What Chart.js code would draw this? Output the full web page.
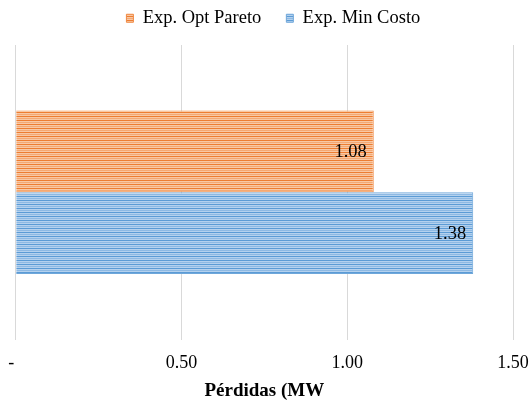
<!DOCTYPE html>
<html>
<head>
<meta charset="utf-8">
<script src="https://cdn.jsdelivr.net/npm/chart.js@4"></script>
<style>
  html, body { margin: 0; padding: 0; background: #ffffff; }
  #wrap { width: 530px; height: 401px; }
</style>
</head>
<body>
<div id="wrap"><canvas id="c" width="530" height="401"></canvas></div>
<script>
// Losses per dispatch scenario (MW)
const categories = [''];
const seriesNames = ['Exp. Opt Pareto', 'Exp. Min Costo'];
const paretoValues = [1.08];
const minCostValues = [1.38];
const tickValues = [0, 0.5, 1.0, 1.5];
const axisTitle = 'Pérdidas (MW';

// Horizontal-stripe fill: one solid line, then lighter lines
function stripes(dark, mid, light) {
  const p = document.createElement('canvas');
  p.width = 4; p.height = 4;
  const g = p.getContext('2d');
  g.fillStyle = light; g.fillRect(0, 0, 4, 4);
  g.fillStyle = dark;  g.fillRect(0, 0, 4, 1);
  g.fillStyle = mid;   g.fillRect(0, 2, 4, 1);
  return g.createPattern(p, 'repeat');
}
const ctx = document.getElementById('c').getContext('2d');
const orangeFill = stripes('#ED7D31', '#F4A873', '#F8C8A4');
const blueFill = stripes('#5B9BD5', '#8DB9E3', '#B4D1EE');

const serif = "'Liberation Serif', 'Times New Roman', serif";

// Value text drawn just inside the end of each bar
const barValues = {
  id: 'barValues',
  afterDatasetsDraw(chart) {
    const c = chart.ctx;
    c.save();
    c.font = '18.5px ' + serif;
    c.fillStyle = '#000000';
    c.textAlign = 'right';
    c.textBaseline = 'middle';
    chart.data.datasets.forEach((ds, i) => {
      chart.getDatasetMeta(i).data.forEach((bar, j) => {
        c.fillText(ds.data[j].toFixed(2), bar.x - 7, bar.y + 1);
      });
    });
    c.restore();
  }
};

// Extra space below the legend row, and a small rightward offset of the row
const legendPlacement = {
  id: 'legendPlacement',
  beforeUpdate(chart) {
    const lg = chart.legend;
    if (lg && !lg._gapPatched) {
      const fit = lg.fit.bind(lg);
      lg.fit = function () { fit(); this.height += 7.5; };
      lg._gapPatched = true;
    }
  },
  afterLayout(chart) {
    const lg = chart.legend;
    if (lg) { lg.left += 9; lg.right += 9; }
  }
};

new Chart(ctx, {
  type: 'bar',
  data: {
    labels: categories,
    datasets: [
      { label: seriesNames[0], data: paretoValues, backgroundColor: orangeFill, borderColor: '#F08A44', borderWidth: 1 },
      { label: seriesNames[1], data: minCostValues, backgroundColor: blueFill, borderColor: '#6FA7DA', borderWidth: 1 }
    ]
  },
  options: {
    indexAxis: 'y',
    responsive: false,
    animation: false,
    devicePixelRatio: 1,
    categoryPercentage: 0.555,
    barPercentage: 1.0,
    layout: { padding: { left: 15.7, right: 17, top: -16, bottom: 0 } },
    plugins: {
      legend: {
        position: 'top',
        labels: {
          font: { family: serif, size: 18.5 },
          color: '#000000',
          boxWidth: 7,
          boxHeight: 8,
          padding: 25
        }
      },
      tooltip: { enabled: false }
    },
    scales: {
      x: {
        min: 0,
        max: 1.5,
        afterBuildTicks(axis) { axis.ticks = tickValues.map(v => ({ value: v })); },
        afterFit(axis) { axis.paddingLeft = 0; axis.paddingRight = 0; },
        ticks: {
          font: { family: serif, size: 18, lineHeight: 1.0 },
          color: '#000000',
          padding: 14.5,
          maxRotation: 0,
          callback(v) { return v === 0 ? '-  ' : Number(v).toFixed(2); }
        },
        grid: { color: '#D9D9D9', lineWidth: 1, drawTicks: false },
        border: { display: false },
        title: {
          display: true,
          text: axisTitle,
          font: { family: serif, size: 19, weight: 'bold', lineHeight: 1.0 },
          color: '#000000',
          padding: { top: -4.5, bottom: 0 }
        }
      },
      y: {
        display: false
      }
    }
  },
  plugins: [legendPlacement, barValues]
});
</script>
</body>
</html>
